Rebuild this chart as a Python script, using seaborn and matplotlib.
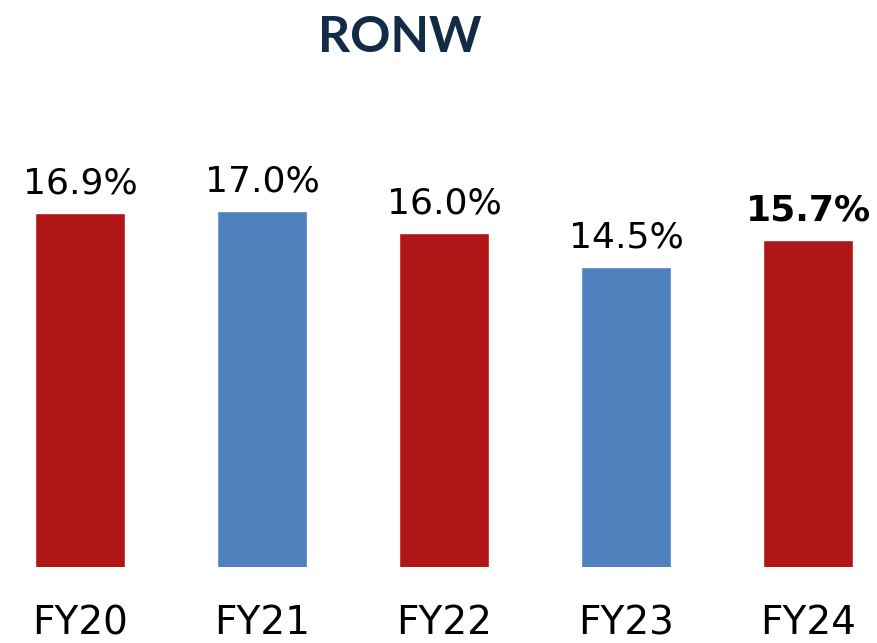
import numpy as np
import pandas as pd
import matplotlib
matplotlib.use("Agg")
import matplotlib.pyplot as plt
import seaborn as sns

# data
years = ["FY20", "FY21", "FY22", "FY23", "FY24"]
ronw = [16.9, 17.0, 16.0, 14.5, 15.7]
labels = ["16.9%", "17.0%", "16.0%", "14.5%", "15.7%"]
bar_colors = ["#B01518", "#4F81BD", "#B01518", "#4F81BD", "#B01518"]

df = pd.DataFrame({"year": years, "ronw": ronw})

sns.set_style("white")
W, H = 878, 643
fig = plt.figure(figsize=(W / 100, H / 100), dpi=100)

# axes placed so bars sit where they do in the reference
px_unit = 182
xlo, xhi = -0.4, 4.4
ylo, yhi = 1.17, 20.0
y_scale = 22.5
left = (80 + xlo * px_unit) / W
width = (xhi - xlo) * px_unit / W
bottom = 76 / H
height = (yhi - ylo) * y_scale / H
ax = fig.add_axes([left, bottom, width, height])

sns.barplot(data=df, x="year", y="ronw", hue="year", palette=bar_colors,
            legend=False, width=0.495, saturation=1, ax=ax)

ax.set_xlim(xlo, xhi)
ax.set_ylim(ylo, yhi)

for i, (v, lab) in enumerate(zip(ronw, labels)):
    ax.annotate(lab, xy=(i, v), xytext=(0, 14), textcoords="offset points",
                ha="center", va="baseline", fontsize=26,
                fontweight="bold" if i == 4 else "normal",
                family="DejaVu Sans", color="black")

ax.set_xlabel("")
ax.set_ylabel("")
ax.set_yticks([])
ax.tick_params(axis="x", length=0, pad=27)
for t in ax.get_xticklabels():
    t.set_fontsize(28)
    t.set_family(["Liberation Sans Narrow", "DejaVu Sans"])
    t.set_color("black")
sns.despine(ax=ax, left=True, bottom=True)

fig.text(400 / W, 1 - 37 / H, "RONW", ha="center", va="center",
         fontsize=36, fontweight="bold", family=["Lato", "DejaVu Sans"],
         color="#132B45")

fig.savefig("out.png", dpi=100)
